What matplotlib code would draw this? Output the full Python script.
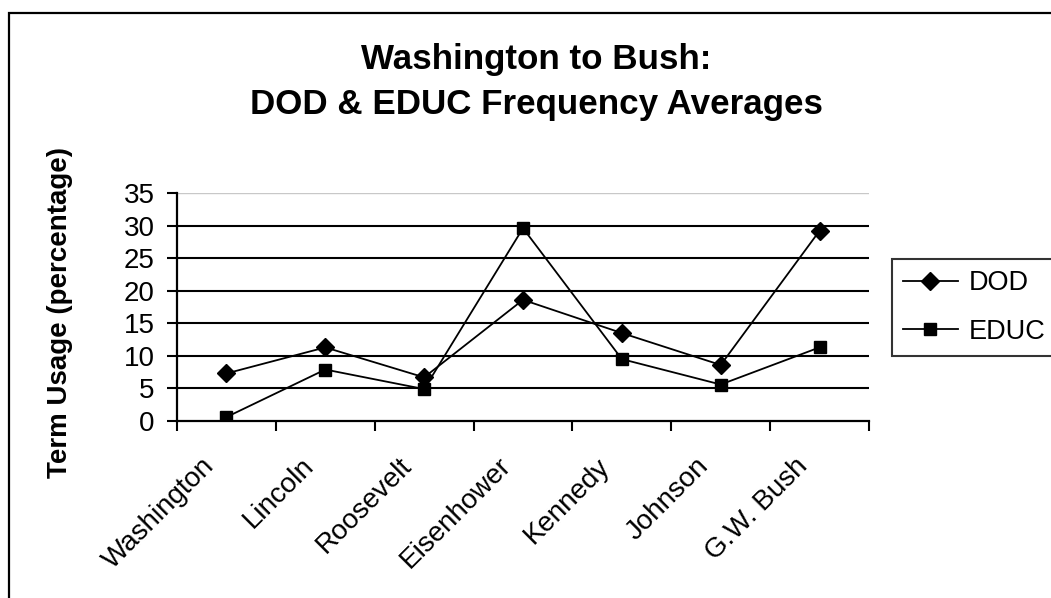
import matplotlib.pyplot as plt
from matplotlib.patches import Rectangle
from matplotlib.transforms import ScaledTranslation

# term usage averages per president (percentage)
presidents = ["Washington", "Lincoln", "Roosevelt", "Eisenhower", "Kennedy", "Johnson", "G.W. Bush"]
dod = [7.3, 11.3, 6.7, 18.6, 13.5, 8.6, 29.2]
educ = [0.6, 7.9, 4.9, 29.6, 9.5, 5.6, 11.3]
y_ticks = [0, 5, 10, 15, 20, 25, 30, 35]

plt.rcParams['font.family'] = ['Liberation Sans', 'DejaVu Sans']

W, H = 1051, 598
fig = plt.figure(figsize=(W / 100, H / 100), dpi=100)

# outer chart frame (runs off the right and bottom edges)
fig.patches.append(Rectangle((9 / W, -0.2), 1.2, (H - 13) / H + 0.2, transform=fig.transFigure,
                             fill=False, edgecolor='black', linewidth=1.6))

ax = fig.add_axes([177 / W, (H - 421) / H, 692 / W, 228 / H])

x = list(range(len(presidents)))
ax.plot(x, dod, color='black', linewidth=1.3, marker='D', markersize=9.5, label='DOD')
ax.plot(x, educ, color='black', linewidth=1.3, marker='s', markersize=9, label='EDUC')

ax.set_xlim(-0.5, len(presidents) - 0.5)
ax.set_ylim(0, 35)
ax.set_yticks(y_ticks)
for t in y_ticks[1:-1]:
    ax.axhline(t, color='black', linewidth=1.5, zorder=0)
ax.axhline(35, color='#c8c8c8', linewidth=1.0, zorder=0)

# category separators as ticks, names rotated below
ax.set_xticks([i - 0.5 for i in range(len(presidents) + 1)])
ax.set_xticklabels([])
ax.tick_params(axis='x', direction='out', length=7, width=1.5)
ax.tick_params(axis='y', direction='out', length=7, width=1.5, labelsize=20, pad=9)

label_tf = ax.get_xaxis_transform() + ScaledTranslation(-25 / 100, -32 / 100, fig.dpi_scale_trans)
for i, name in enumerate(presidents):
    ax.text(i, 0, name, transform=label_tf, rotation=45, ha='right', va='top',
            rotation_mode='anchor', fontsize=20)

for side in ['top', 'right']:
    ax.spines[side].set_visible(False)
ax.spines['left'].set_linewidth(1.6)
ax.spines['bottom'].set_linewidth(1.6)

fig.text(60 / W, 1 - 312 / H, "Term Usage (percentage)", rotation=90, ha='center', va='center',
         fontsize=20, fontweight='bold')

fig.text(536 / W, 1 - 69 / H, "Washington to Bush:", ha='center', va='baseline',
         fontsize=25.2, fontweight='bold')
fig.text(536 / W, 1 - 114 / H, "DOD & EDUC Frequency Averages", ha='center', va='baseline',
         fontsize=25.2, fontweight='bold')

leg = fig.legend(loc='upper left', bbox_to_anchor=(892 / W, 1 - 259 / H), fontsize=19.5,
                 frameon=True, fancybox=False, edgecolor='black', handlelength=2.0,
                 handletextpad=0.4, borderpad=0.42, labelspacing=0.82, borderaxespad=0)
leg.get_frame().set_linewidth(1.5)

fig.savefig("out.png", dpi=100)
